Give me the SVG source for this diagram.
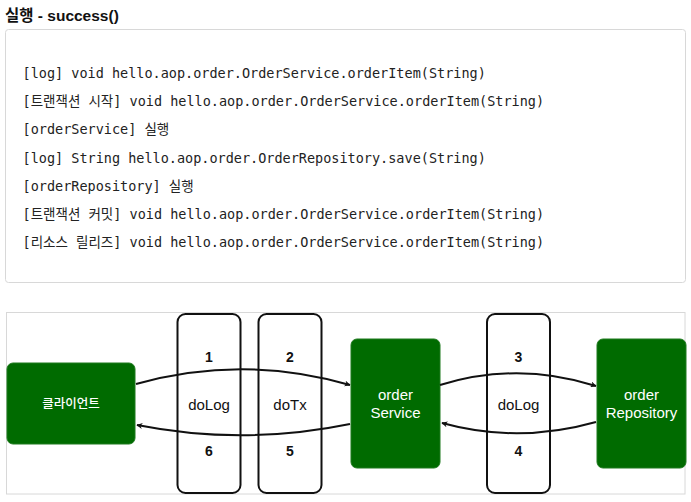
<svg xmlns="http://www.w3.org/2000/svg" width="691" height="502" viewBox="0 0 691 502">
<style>
.title{font-family:"Liberation Sans","Noto Sans CJK KR",sans-serif;font-weight:bold;font-size:15.5px;fill:#111}
.code{font-family:"DejaVu Sans Mono","Noto Sans CJK KR",monospace;font-size:13.5px;fill:#222}
.green{fill:#006b00;stroke:#1f7a1f;stroke-width:1}
.box{fill:#fff;stroke:#111;stroke-width:2}
.wl{font-family:"Liberation Sans","Noto Sans CJK KR",sans-serif;font-size:15px;fill:#fff;text-anchor:middle}
.kl{font-family:"Noto Sans CJK KR","Liberation Sans",sans-serif;font-size:12.5px;fill:#fff;text-anchor:middle;font-weight:500}
.bl{font-family:"Liberation Sans",sans-serif;font-size:15px;fill:#111;text-anchor:middle}
.num{font-family:"Liberation Sans",sans-serif;font-size:14px;font-weight:bold;fill:#111;text-anchor:middle}
.conn{fill:none;stroke:#111;stroke-width:2;marker-end:url(#arr)}
</style>
<defs>
<marker id="arr" viewBox="0 0 10 10" refX="9" refY="5" markerWidth="6" markerHeight="6" markerUnits="userSpaceOnUse" orient="auto">
<path d="M0,0 L10,5 L0,10 L3,5 Z" fill="#111"/>
</marker>
</defs>
<rect width="691" height="502" fill="#fff"/>
<text class="title" x="5" y="21">실행 - success()</text>
<rect x="5.5" y="29.5" width="680" height="253" rx="3" fill="#fff" stroke="#d8d8d8" stroke-width="1"/>
<g id="code">
<text class="code" x="22.5" y="77.5">[log] void hello.aop.order.OrderService.orderItem(String)</text>
<text class="code" x="22.5" y="105.5">[트랜잭션 시작] void hello.aop.order.OrderService.orderItem(String)</text>
<text class="code" x="22.5" y="133.5">[orderService] 실행</text>
<text class="code" x="22.5" y="163">[log] String hello.aop.order.OrderRepository.save(String)</text>
<text class="code" x="22.5" y="190.5">[orderRepository] 실행</text>
<text class="code" x="22.5" y="218.5">[트랜잭션 커밋] void hello.aop.order.OrderService.orderItem(String)</text>
<text class="code" x="22.5" y="246.5">[리소스 릴리즈] void hello.aop.order.OrderService.orderItem(String)</text>
</g>
<rect x="6.5" y="312.5" width="678.5" height="181.5" fill="#fff" stroke="#d8d8d8" stroke-width="1"/>
<g id="doLog1">
<rect class="box" x="177.5" y="314" width="63" height="179" rx="8"/>
<text class="num" x="209" y="362">1</text>
<text class="bl" x="209" y="410">doLog</text>
<text class="num" x="209" y="456">6</text>
</g>
<g id="doTx">
<rect class="box" x="258.5" y="314" width="63" height="179" rx="8"/>
<text class="num" x="290" y="362">2</text>
<text class="bl" x="290" y="410">doTx</text>
<text class="num" x="290" y="456">5</text>
</g>
<g id="doLog2">
<rect class="box" x="487" y="314" width="63" height="179" rx="8"/>
<text class="num" x="518.5" y="362">3</text>
<text class="bl" x="518.5" y="410">doLog</text>
<text class="num" x="518.5" y="456">4</text>
</g>
<g id="client">
<rect class="green" x="7" y="363" width="128" height="81" rx="6"/>
<text class="kl" x="71" y="408">클라이언트</text>
</g>
<g id="orderService">
<rect class="green" x="351" y="339" width="89" height="129" rx="6"/>
<text class="wl" x="395.5" y="400">order</text>
<text class="wl" x="395.5" y="418">Service</text>
</g>
<g id="orderRepository">
<rect class="green" x="597" y="339" width="89" height="129" rx="6"/>
<text class="wl" x="641.5" y="400">order</text>
<text class="wl" x="641.5" y="418">Repository</text>
</g>
<g id="connectors">
<path class="conn" d="M136,384 Q243,354 350,385"/>
<path class="conn" d="M350,424 Q243,446 137,425"/>
<path class="conn" d="M440,385 Q518,361 596,386"/>
<path class="conn" d="M596,422 Q518,444 442,423"/>
</g>
</svg>
